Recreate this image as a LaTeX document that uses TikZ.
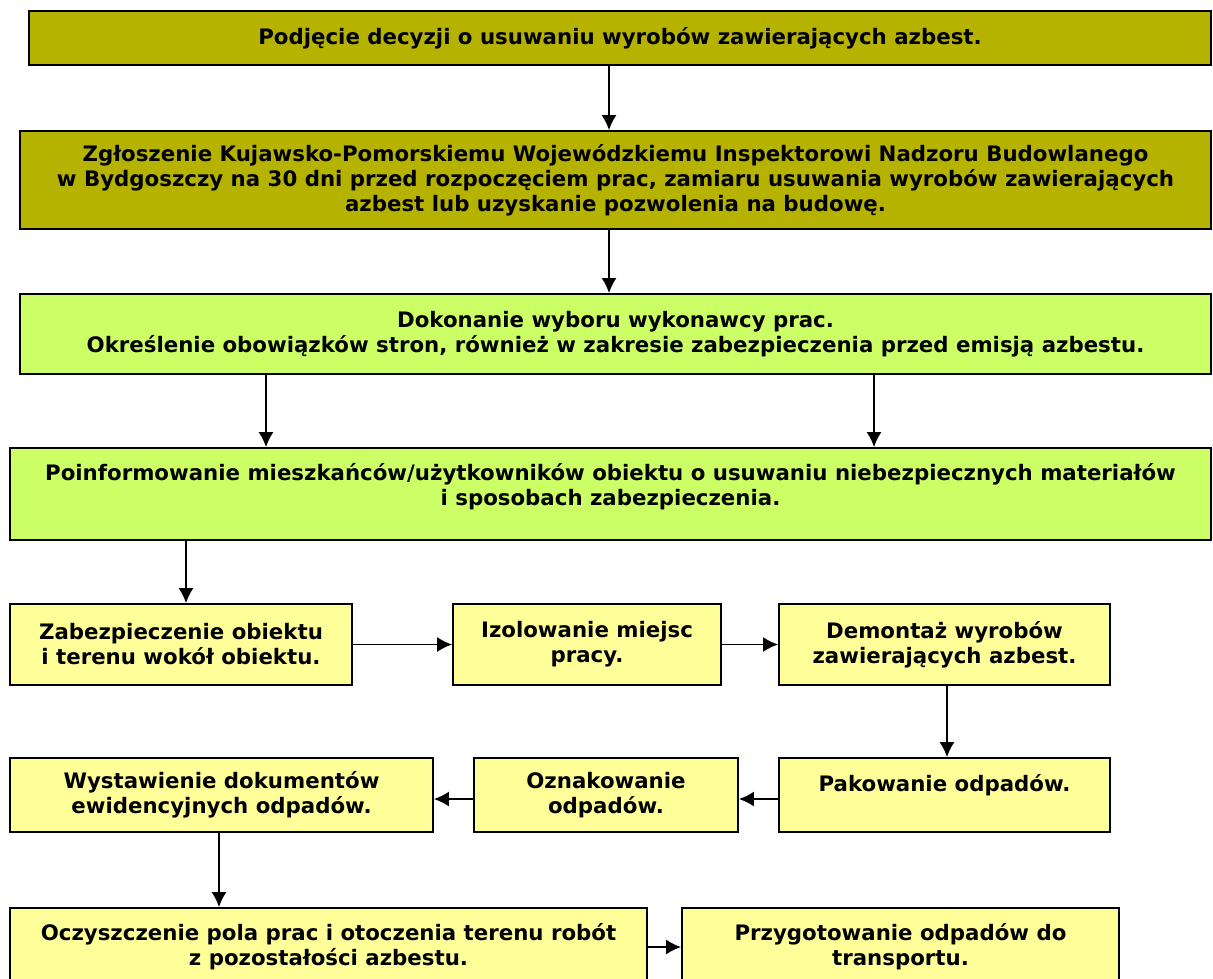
\documentclass[tikz,border=0pt]{standalone}
\usepackage{fontspec}
\setmainfont{DejaVu Sans}
\usetikzlibrary{%
  arrows.meta%
}
\definecolor{olivefill}{RGB}{181,178,0}
\definecolor{greenfill}{RGB}{204,255,102}
\definecolor{yellowfill}{RGB}{255,255,153}
\tikzset{>={Latex[length=15pt,width=15pt]}}
\tikzset{
  box/.style={draw=black,line width=1.8pt,align=center,inner sep=0pt,
    font=\bfseries\fontsize{21.3}{25}\selectfont},
  olivebox/.style={box,fill=olivefill},
  greenbox/.style={box,fill=greenfill},
  yellowbox/.style={box,fill=yellowfill},
  link/.style={line width=1.8pt,-{Latex[length=15pt,width=15pt]}}
}

\begin{document}
\begin{tikzpicture}[x=1pt,y=-1pt]
  \clip (0,0) rectangle (1213,978);
  \useasboundingbox (0,0) rectangle (1213,978);
  % upper part
  \node[olivebox,minimum width=1182pt,minimum height=54pt] (decyzja) at (620,38)
  {Podjęcie decyzji o usuwaniu wyrobów zawierających azbest.};
  \node[olivebox,minimum width=1191pt,minimum height=98pt] (zglosz) at (615.5,180)
  {Zgłoszenie Kujawsko-Pomorskiemu Wojewódzkiemu Inspektorowi Nadzoru Budowlanego\\
   w Bydgoszczy na 30 dni przed rozpoczęciem prac, zamiaru usuwania wyrobów zawierających\\
   azbest lub uzyskanie pozwolenia na budowę.};
  \node[greenbox,minimum width=1191pt,minimum height=80pt] (wybor) at (615.5,334)
  {Dokonanie wyboru wykonawcy prac.\\
   Określenie obowiązków stron, również w zakresie zabezpieczenia przed emisją azbestu.};
  \node[greenbox,minimum width=1201pt,minimum height=92pt] (poinf) at (610.5,494)
  {Poinformowanie mieszkańców/użytkowników obiektu o usuwaniu niebezpiecznych materiałów\\
   i sposobach zabezpieczenia.\\[-5.5pt]\mbox{}};
  % works
  \node[yellowbox,minimum width=342pt,minimum height=81pt] (zabezp) at (181,644.5)
  {Zabezpieczenie obiektu\\ i terenu wokół obiektu.};
  \node[yellowbox,minimum width=268pt,minimum height=81pt] (izol) at (587,644.5)
  {Izolowanie miejsc\\ pracy.};
  \node[yellowbox,minimum width=331pt,minimum height=81pt] (demont) at (944.5,644.5)
  {Demontaż wyrobów\\ zawierających azbest.};
  \node[yellowbox,minimum width=331pt,minimum height=74pt] (pakow) at (944.5,795)
  {Pakowanie odpadów.\\ \mbox{}};
  \node[yellowbox,minimum width=264pt,minimum height=74pt] (oznak) at (606,795)
  {Oznakowanie\\ odpadów.};
  \node[yellowbox,minimum width=423pt,minimum height=74pt] (wystaw) at (221.5,795)
  {Wystawienie dokumentów\\ ewidencyjnych odpadów.};
  \node[yellowbox,minimum width=637pt,minimum height=78pt] (oczysz) at (328.5,947)
  {Oczyszczenie pola prac i otoczenia terenu robót\\ z pozostałości azbestu.};
  \node[yellowbox,minimum width=437pt,minimum height=78pt] (przyg) at (900.5,947)
  {Przygotowanie odpadów do\\ transportu.};
  % arrows
  \draw[link] (decyzja.south -| 609,0) -- (zglosz.north -| 609,0);
  \draw[link] (zglosz.south -| 609,0) -- (wybor.north -| 609,0);
  \draw[link] (wybor.south -| 266,0) -- (poinf.north -| 266,0);
  \draw[link] (wybor.south -| 874,0) -- (poinf.north -| 874,0);
  \draw[link] (poinf.south -| 186,0) -- (zabezp.north -| 186,0);
  \draw[link] (zabezp.east) -- (izol.west);
  \draw[link] (izol.east) -- (demont.west);
  \draw[link] (demont.south -| 947,0) -- (pakow.north -| 947,0);
  \draw[link] (pakow.west |- 0,799) -- (oznak.east |- 0,799);
  \draw[link] (oznak.west |- 0,799) -- (wystaw.east |- 0,799);
  \draw[link] (wystaw.south -| 219,0) -- (oczysz.north -| 219,0);
  \draw[link] (oczysz.east) -- (przyg.west);
\end{tikzpicture}
\end{document}
